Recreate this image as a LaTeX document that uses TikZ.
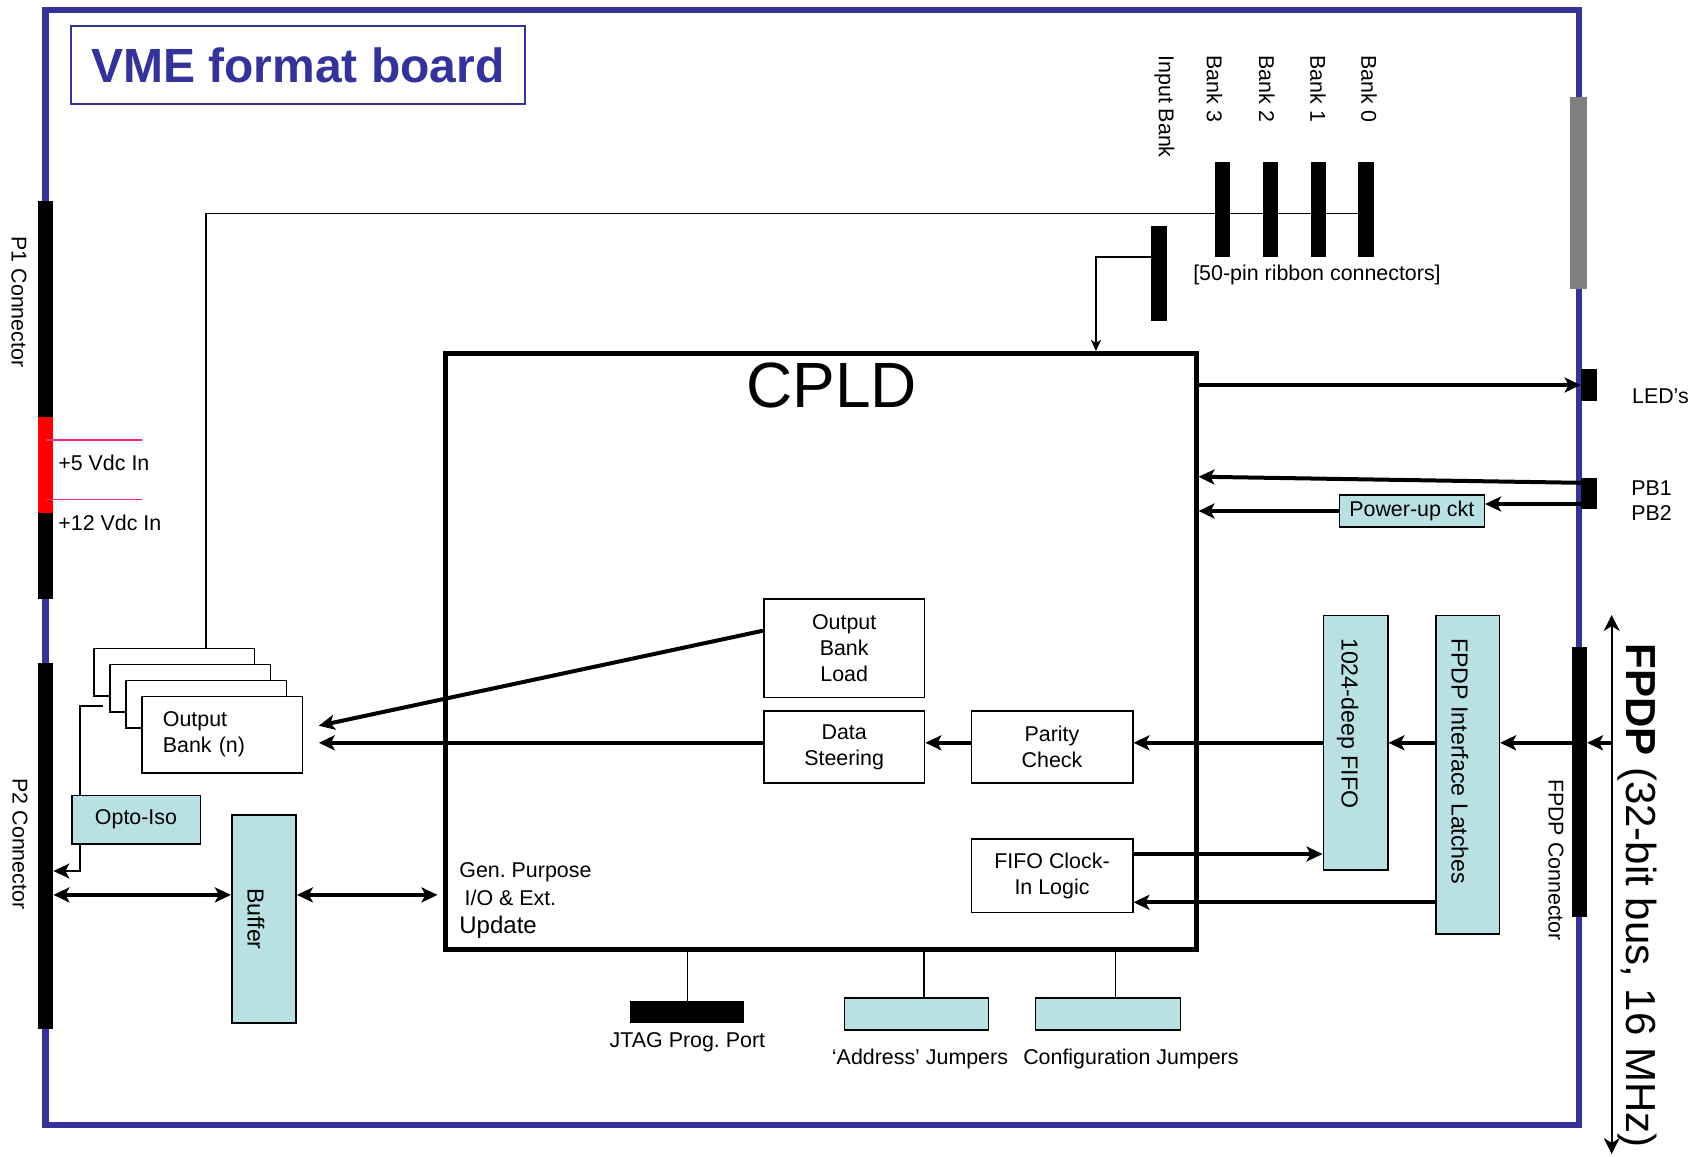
\documentclass[tikz,border=0pt]{standalone}
\usepackage{fontspec}
\setmainfont{Liberation Sans}
\usepackage{tikz}
\usetikzlibrary{arrows.meta, positioning}
\definecolor{boardblue}{HTML}{333399}
\definecolor{partfill}{HTML}{B9E0E3}
\definecolor{pwrred}{HTML}{FF0000}
\definecolor{pwrline}{HTML}{F0287A}
\definecolor{ejector}{HTML}{808080}
\frenchspacing
\tikzset{
  txt/.style    = {font=\fontsize{10.7}{13}\selectfont, inner sep=0pt},
  vtxt/.style   = {txt, rotate=-90},
  boxtxt/.style = {vtxt, font=\fontsize{11.6}{14}\selectfont},
  logic/.style  = {txt, draw, line width=0.9pt, fill=white, align=center},
  part/.style   = {logic, fill=partfill, line width=0.8pt},
  pins/.style   = {fill=black, inner sep=0pt, minimum width=7.5pt},
  wire/.style   = {line width=0.75pt},
  sig/.style    = {line width=2pt, ->},
}

\begin{document}
\begin{tikzpicture}[x=0.5pt, y=-0.5pt, >={Stealth[length=8pt, width=7.5pt, inset=2pt]}]
\useasboundingbox (0,0) rectangle (1705,1157);

% board outline and title
\draw[boardblue, line width=3.4pt] (45.5,10) rectangle (1579,1125);
\node[draw=boardblue, line width=0.8pt, inner sep=0pt, minimum width=227pt, minimum height=39pt,
      text=boardblue, font=\fontsize{24}{28}\selectfont\bfseries] (title) at (298,65) {VME format board};
\node[fill=ejector, inner sep=0pt, minimum width=8.75pt, minimum height=96pt] (ejector) at (1578.3,193) {};

% edge connectors
\node[pins, minimum height=199pt] (p1) at (45.5,400) {};
\node[pins, fill=pwrred, minimum height=48pt] (pwrin) at (45.5,465) {};
\node[pins, minimum height=183pt] (p2) at (45.5,846) {};
\node[pins, minimum height=135pt] (fpdp) at (1579.2,782) {};
\node[pins, minimum width=8pt, minimum height=15.7pt] (led) at (1589,385) {};
\node[pins, minimum width=8pt, minimum height=15.5pt] (pb) at (1589,493.8) {};
\node[vtxt] (p1lbl) at (19,302) {P1 Connector};
\node[vtxt] (p2lbl) at (20,844) {P2 Connector};
\node[vtxt] (fpdplbl) at (1556,860) {FPDP Connector};
\draw[draw=pwrline, line width=0.8pt] ([yshift=12.5pt]pwrin.center) -- ++(96,0);
\draw[draw=pwrline, line width=0.8pt] ([yshift=-17.15pt]pwrin.center) -- ++(96,0);
\node[txt, anchor=base west] (fivelbl) at (58,470) {+5 Vdc In};
\node[txt, anchor=base west] (twelvelbl) at (58,530) {+12 Vdc In};
\node[txt, anchor=base west] (ledlbl) at (1631.7,403.3) {LED’s};
\node[txt, anchor=base west] (pbonelbl) at (1631,495) {PB1};
\node[txt, anchor=base west] (pbtwolbl) at (1631,520.7) {PB2};

% ribbon headers
\foreach \n/\x/\lx in {3/1222.7/1214.6, 2/1270.5/1266.8, 1/1318.3/1318, 0/1366.1/1369} {
  \node[pins, minimum width=7.75pt, minimum height=47.3pt] (bank\n) at (\x,209.7) {};
  \node[vtxt, anchor=west] (banklbl\n) at (\lx,55) {Bank \n};
}
\node[pins, minimum width=7.75pt, minimum height=47.7pt] (inbank) at (1159,273.3) {};
\node[vtxt, anchor=west] (inbanklbl) at (1164.5,55) {Input Bank};
\node[txt] (ribbonlbl) at (1317,274.5) {[50-pin ribbon connectors]};

% CPLD and its blocks
\node[draw, line width=2.5pt, inner sep=0pt, minimum width=375.25pt, minimum height=298pt] (cpld) at (820.75,651.5) {};
\node[inner sep=0pt, font=\fontsize{32}{36}\selectfont] (cpldlbl) at ([xshift=5.5pt, yshift=-17.2pt]cpld.north) {CPLD};
\node[logic, minimum width=80.3pt, minimum height=49.2pt] (obl) at (844.2,648.2) {Output\\Bank\\Load};
\node[logic, minimum width=80.3pt, minimum height=36.3pt] (steer) at (844.2,747) {Data\\Steering};
\node[logic, minimum width=80.6pt, minimum height=36.3pt] (parity) at (1052,747) {Parity\\Check};
\node[logic, minimum width=80.6pt, minimum height=36.7pt] (fifoclk) at (1052,875.7) {FIFO Clock-\\In Logic};
\node[txt, anchor=north west, align=left, font=\fontsize{10.7}{14}\selectfont] (gpio) at (459,862)
  {Gen. Purpose\\\hspace*{2.6pt}I/O \& Ext.\\{\fontsize{12}{14}\selectfont Update}};

% FPDP side
\node[part, minimum width=32.2pt, minimum height=127.3pt] (fifo) at (1355.5,742.8) {};
\node[part, minimum width=31.8pt, minimum height=159.3pt] (latch) at (1467.5,774.8) {};
\node[boxtxt, anchor=west] (fifolbl) at ([xshift=-4pt, yshift=-11.5pt]fifo.north) {1024-deep FIFO};
\node[boxtxt, anchor=west] (latchlbl) at ([xshift=-3.75pt, yshift=-11.5pt]latch.north) {FPDP Interface Latches};
\node[part, minimum width=72.5pt, minimum height=15.9pt] (powerup) at (1411.8,511) {Power-up ckt};

% VME side
\node[part, minimum width=32.2pt, minimum height=103.9pt] (buffer) at (263.9,918.9) {};
\node[boxtxt] (bufferlbl) at ([xshift=-4pt]buffer.center) {Buffer};
\node[part, minimum width=64.3pt, minimum height=24.2pt] (opto) at (136,819.6) {Opto-Iso};
\foreach \k in {0,1,2} {
  \node[logic, anchor=north west, minimum width=80.25pt, minimum height=23.75pt] (obank\k) at (93+16*\k,647.5+16*\k) {};
}
\node[logic, anchor=north west, align=left, text width=59.25pt, inner xsep=10.5pt, minimum height=38.25pt] (obank) at (141,695.5) {Output\\Bank (n)};

% jumpers and JTAG
\node[pins, minimum width=57pt, minimum height=11.2pt] (jtag) at (687.4,1012.2) {};
\node[part, minimum width=72.1pt, minimum height=16.2pt] (addr) at (916.4,1013.9) {};
\node[part, minimum width=72.5pt, minimum height=16.2pt] (config) at (1107.9,1013.9) {};
\node[txt, below=4.3pt of jtag] (jtaglbl) {JTAG Prog. Port};
\node[txt, below=9pt of addr, xshift=1.8pt] (addrlbl) {‘Address’ Jumpers};
\node[txt, below=9pt of config, xshift=11.5pt] (configlbl) {Configuration Jumpers};

% FPDP bus
\coordinate (bustop) at (1611.7,615);
\coordinate (busbot) at (1611.7,1154);
\draw[line width=1pt, {Stealth[length=8pt, width=8pt, inset=2.5pt]}-{Stealth[length=8pt, width=8pt, inset=2.5pt]}] (bustop) -- (busbot);
\node[vtxt, anchor=west, font=\fontsize{21}{25}\selectfont] (buslbl) at (1637,643) {\textbf{FPDP} (32-bit bus, 16 MHz)};

% wiring
\draw[wire] ([xshift=16pt]obank0.north) |- ([yshift=-1.9pt]bank0.east);
\draw[line width=1pt, -{Stealth[length=5.5pt, width=5pt, inset=1.5pt]}] ([yshift=8.2pt]inbank.west) -| ([xshift=137.6pt]cpld.north);
\draw[sig] (cpld.east |- led.west) -- (led.west);
\draw[sig] ([yshift=5.5pt]pb.west) -- ([yshift=87.4pt]cpld.east);
\draw[sig] ([yshift=-5.1pt]pb.west) -- ([yshift=3.5pt]powerup.east);
\draw[sig] (powerup.west) -- (cpld.east |- powerup.west);
\draw[sig] (fifo.east -| bustop) -- (fifo.east -| fpdp.east);
\draw[sig] (fifo.east -| fpdp) -- (fifo.east -| latch.east);
\draw[sig] (fifo.east -| latch.west) -- (fifo.east);
\draw[sig] (fifo.west) -- (fifo.west -| parity.east);
\draw[sig] (fifo.west -| parity.west) -- (fifo.west -| steer.east);
\draw[sig, shorten >=7.75pt] (fifo.west -| steer.west) -- (fifo.west -| obank.east);
\draw[sig, shorten >=7.9pt] ([yshift=8.75pt]obl.west) -- ([yshift=2.8pt]obank.east);
\coordinate (clkout) at ([yshift=10.85pt]fifoclk.east);
\coordinate (clkin) at ([yshift=-13.3pt]fifoclk.east);
\draw[sig] (clkout) -- (clkout -| fifo.west);
\draw[sig] (clkin -| latch.west) -- (clkin);
\coordinate (vmebus) at ([yshift=12pt]buffer.west);
\coordinate (gpbus) at ([yshift=12pt]buffer.east);
\draw[sig, <->] (vmebus -| p2.east) -- (vmebus);
\draw[sig, <->, shorten >=2.75pt] (gpbus) -- (gpbus -| cpld.west);
\draw[wire] ([xshift=-2.9pt, yshift=3.5pt]obank1.south west) -| ([xshift=4.5pt]opto.north west);
\draw[line width=1pt, ->] ([xshift=4.5pt]opto.south west) |- ([yshift=-12.5pt]p2.east);
\coordinate (addrpin) at ([xshift=3.7pt]addr.north);
\coordinate (configpin) at ([xshift=3.9pt]config.north);
\draw[wire] (jtag.north |- cpld.south) -- (jtag.north);
\draw[wire] (addrpin |- cpld.south) -- (addrpin);
\draw[wire] (configpin |- cpld.south) -- (configpin);
\end{tikzpicture}
\end{document}
